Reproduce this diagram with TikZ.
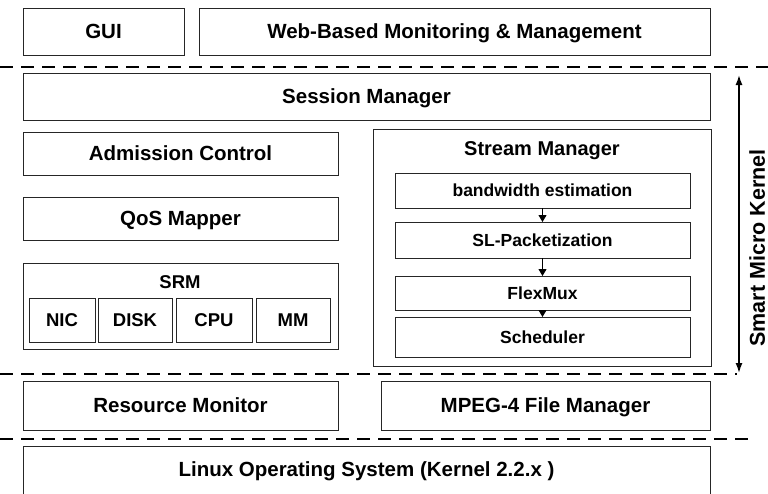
\documentclass[tikz,border=0pt]{standalone}
\usepackage{fontspec}
\setmainfont{Liberation Sans}
\usetikzlibrary{arrows.meta}

\tikzset{
  box/.style={draw=black!85, line width=0.8pt, fill=white, anchor=north west,
              inner sep=0pt, outer sep=0pt, text height=14.7pt, text depth=0pt,
              font=\bfseries\fontsize{20.5}{24}\selectfont},
  subbox/.style={box, text height=12.6pt, font=\bfseries\fontsize{17.5}{21}\selectfont},
  srmbox/.style={box, text height=13.3pt, font=\bfseries\fontsize{18.5}{22}\selectfont},
  title/.style={inner sep=0pt, text height=14.4pt, text depth=0pt,
                font=\bfseries\fontsize{20}{24}\selectfont},
  layerline/.style={line width=2.8pt, dash pattern=on 13pt off 8pt},
  flowarrow/.style={line width=1pt, -{Triangle[length=7pt,width=8pt]}},
  spanarrow/.style={line width=1.5pt, {Latex[length=10pt,width=7pt]}-{Latex[length=10pt,width=7pt]}},
}

\begin{document}
\begin{tikzpicture}[x=1pt, y=-1pt]
  \useasboundingbox (0,0) rectangle (768,493);
  \clip (0,0) rectangle (768,493);

  % application layer
  \node[box, minimum width=161, minimum height=47] (gui) at (23,8) {GUI};
  \node[box, minimum width=511, minimum height=47] (web) at (199,8) {Web-Based Monitoring \& Management};

  % layer separators
  \coordinate (l1w) at (0,67);   \coordinate (l1e) at (768,67);
  \coordinate (l2w) at (0,374);  \coordinate (l2e) at (737,374);
  \coordinate (l3w) at (0,439);  \coordinate (l3e) at (750,439);
  \draw[layerline] (l1w) -- (l1e);
  \draw[layerline] (l2w) -- (l2e);
  \draw[layerline] (l3w) -- (l3e);

  % smart micro kernel
  \node[box, minimum width=687, minimum height=47] (session) at (23,73) {Session Manager};
  \node[box, minimum width=315, minimum height=43] (admission) at (23,132) {Admission Control};
  \node[box, minimum width=315, minimum height=43] (qos) at (23,197) {QoS Mapper};

  \node[box, minimum width=315, minimum height=86] (srm) at (23,263) {};
  \node[title, text height=13.3pt, font=\bfseries\fontsize{18.5}{22}\selectfont] (srmtitle) at (180,282) {SRM};
  \node[srmbox, minimum width=66, minimum height=44] (nic)  at (29,298)  {NIC};
  \node[srmbox, minimum width=74, minimum height=44] (disk) at (98,298)  {DISK};
  \node[srmbox, minimum width=76, minimum height=44] (cpu)  at (176,298) {CPU};
  \node[srmbox, minimum width=74, minimum height=44] (mm)   at (256,298) {MM};

  \node[box, minimum width=338, minimum height=237] (stream) at (373,129) {};
  \node[title] (streamtitle) at (542,148) {Stream Manager};
  \node[subbox, minimum width=295, minimum height=35] (bw)    at (395,173) {bandwidth estimation};
  \node[subbox, minimum width=295, minimum height=36] (slp)   at (395,222) {SL-Packetization};
  \node[subbox, minimum width=295, minimum height=34] (fmux)  at (395,276) {FlexMux};
  \node[subbox, minimum width=295, minimum height=40] (sched) at (395,317) {Scheduler};
  \draw[flowarrow] (bw.south) -- (slp.north);
  \draw[flowarrow] (slp.south) -- (fmux.north);
  \draw[flowarrow] (fmux.south) -- (sched.north);

  \coordinate (ktop) at (739,75);
  \coordinate (kbot) at (739,373);
  \draw[spanarrow] (ktop) -- (kbot);
  \node[rotate=90, inner sep=0pt, text height=15.5pt, text depth=0pt,
        font=\bfseries\fontsize{21.5}{25}\selectfont] (kernel) at (757,248) {Smart Micro Kernel};

  % service layer
  \node[box, minimum width=315, minimum height=49] (resmon) at (23,381) {Resource Monitor};
  \node[box, minimum width=329, minimum height=49] (mpeg) at (381,381) {MPEG-4 File Manager};

  % operating system
  \node[box, minimum width=687, minimum height=62] (linux) at (23,446) {};
  \node[title, text height=14.7pt, font=\bfseries\fontsize{20.5}{24}\selectfont] (linuxtext) at (366.5,469) {Linux Operating System (Kernel 2.2.x )};
\end{tikzpicture}
\end{document}
